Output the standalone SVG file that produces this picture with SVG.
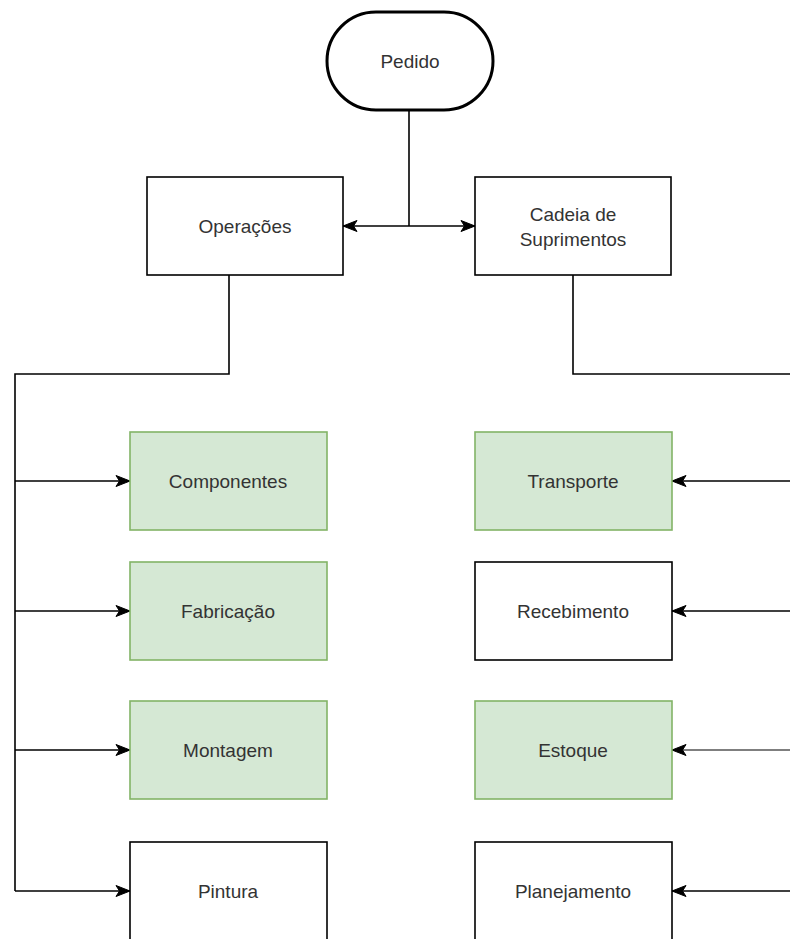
<svg xmlns="http://www.w3.org/2000/svg" width="790" height="939" viewBox="0 0 790 939">
  <style>
    .box { fill: #ffffff; stroke: #000000; stroke-width: 1.6; }
    .green { fill: #d5e8d4; stroke: #82b366; stroke-width: 1.6; }
    .term { fill: #ffffff; stroke: #000000; stroke-width: 3; }
    .label { font-family: "Liberation Sans", Arial, sans-serif; font-size: 19px; fill: #333333; text-anchor: middle; dominant-baseline: central; }
    .edge { fill: none; stroke: #000000; stroke-width: 1.6; }
    .edge.soft { stroke: #555555; }
  </style>
  <defs>
    <marker id="arrow" markerUnits="userSpaceOnUse" markerWidth="16" markerHeight="14" viewBox="0 0 16 14" refX="15" refY="7" orient="auto-start-reverse">
      <path d="M1,1.5 L15,7 L1,12.5 L4.5,7 Z" fill="#000000" stroke="#000000" stroke-width="1"/>
    </marker>
    <marker id="arrowSoft" markerUnits="userSpaceOnUse" markerWidth="16" markerHeight="14" viewBox="0 0 16 14" refX="15" refY="7" orient="auto-start-reverse">
      <path d="M1,1.5 L15,7 L1,12.5 L4.5,7 Z" fill="#000000" stroke="#000000" stroke-width="1"/>
    </marker>
  </defs>

  <rect width="790" height="939" fill="#ffffff"/>

  <!-- connectors -->
  <g id="connectors">
    <!-- Pedido to Operações / Cadeia de Suprimentos -->
    <path class="edge" d="M409,110 V226"/>
    <path class="edge" d="M343,226 H475" marker-start="url(#arrow)" marker-end="url(#arrow)"/>
    <!-- Operações branch -->
    <path class="edge" d="M229,275 V374 H15 V891"/>
    <path class="edge" d="M15,481 H130" marker-end="url(#arrow)"/>
    <path class="edge" d="M15,611 H130" marker-end="url(#arrow)"/>
    <path class="edge" d="M15,750 H130" marker-end="url(#arrow)"/>
    <path class="edge" d="M15,891 H130" marker-end="url(#arrow)"/>
    <!-- Cadeia de Suprimentos branch -->
    <path class="edge" d="M573,275 V374 H790"/>
    <path class="edge" d="M790,481 H672" marker-end="url(#arrow)"/>
    <path class="edge" d="M790,611 H672" marker-end="url(#arrow)"/>
    <path class="edge soft" d="M790,750 H672" marker-end="url(#arrowSoft)"/>
    <path class="edge" d="M790,891 H672" marker-end="url(#arrow)"/>
  </g>

  <!-- nodes -->
  <g id="pedido">
    <rect class="term" x="327" y="12" width="166" height="98" rx="49" ry="49"/>
    <text class="label" x="410" y="61">Pedido</text>
  </g>
  <g id="operacoes">
    <rect class="box" x="147" y="177" width="196" height="98"/>
    <text class="label" x="245" y="226">Operações</text>
  </g>
  <g id="cadeia">
    <rect class="box" x="475" y="177" width="196" height="98"/>
    <text class="label" x="573" y="214">Cadeia de</text>
    <text class="label" x="573" y="239">Suprimentos</text>
  </g>

  <g id="componentes">
    <rect class="green" x="130" y="432" width="197" height="98"/>
    <text class="label" x="228" y="481">Componentes</text>
  </g>
  <g id="fabricacao">
    <rect class="green" x="130" y="562" width="197" height="98"/>
    <text class="label" x="228" y="611">Fabricação</text>
  </g>
  <g id="montagem">
    <rect class="green" x="130" y="701" width="197" height="98"/>
    <text class="label" x="228" y="750">Montagem</text>
  </g>
  <g id="pintura">
    <rect class="box" x="130" y="842" width="197" height="110"/>
    <text class="label" x="228" y="891">Pintura</text>
  </g>

  <g id="transporte">
    <rect class="green" x="475" y="432" width="197" height="98"/>
    <text class="label" x="573" y="481">Transporte</text>
  </g>
  <g id="recebimento">
    <rect class="box" x="475" y="562" width="197" height="98"/>
    <text class="label" x="573" y="611">Recebimento</text>
  </g>
  <g id="estoque">
    <rect class="green" x="475" y="701" width="197" height="98"/>
    <text class="label" x="573" y="750">Estoque</text>
  </g>
  <g id="planejamento">
    <rect class="box" x="475" y="842" width="197" height="110"/>
    <text class="label" x="573" y="891">Planejamento</text>
  </g>
</svg>
